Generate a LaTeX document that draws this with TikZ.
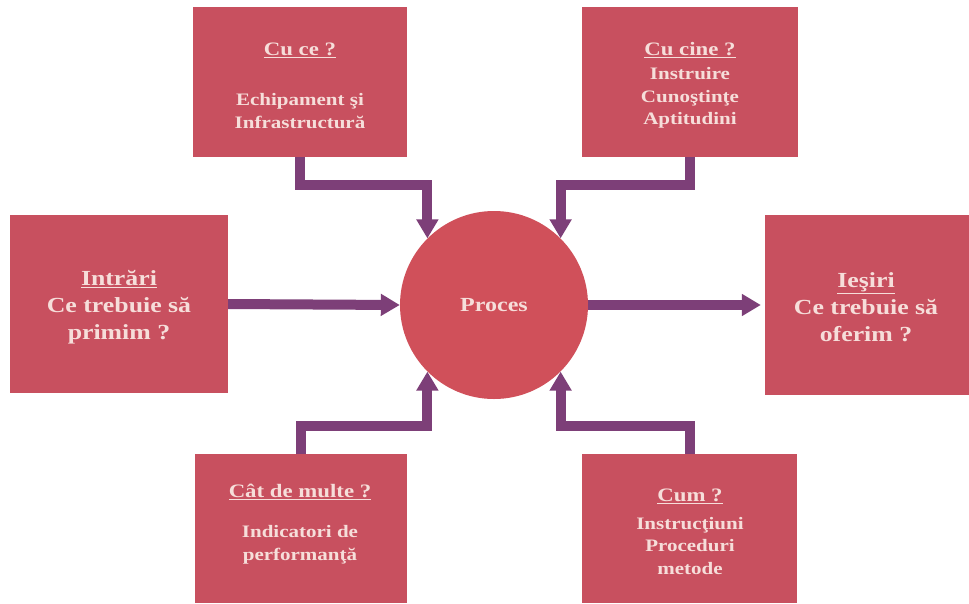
\documentclass[tikz,border=0pt]{standalone}
\usepackage{fontspec}
\setmainfont{Liberation Serif}[FakeStretch=1.2]
\usetikzlibrary{arrows.meta}
\definecolor{boxred}{HTML}{C8505F}
\definecolor{circred}{HTML}{D0505A}
\definecolor{arrpurple}{HTML}{7D3F78}
\definecolor{txtpink}{HTML}{F6DEDA}
\begin{document}
\begin{tikzpicture}[x=1pt,y=-1pt,
  box/.style={fill=boxred,draw=none,inner sep=0pt,text=txtpink,font=\bfseries},
  arr/.style={draw=arrpurple,line width=10pt,line join=miter,
    -{Triangle[width=21pt,length=19pt]}},
  ttl/.style={font=\bfseries\fontsize{19}{21}\selectfont,text=txtpink},
  bod/.style={font=\bfseries\fontsize{17.5}{22.5}\selectfont,text=txtpink,align=center},
  big/.style={font=\bfseries\fontsize{21.5}{27}\selectfont,text=txtpink,align=center}]
\useasboundingbox (0,0) rectangle (969,603);
\fill[white] (0,0) rectangle (969,603);
% boxes
\node[box,minimum width=214pt,minimum height=150pt] (tl) at (300,82) {};
\node[box,minimum width=216pt,minimum height=150pt] (tr) at (690,82) {};
\node[box,minimum width=218pt,minimum height=178pt] (l) at (119,304) {};
\node[box,minimum width=204pt,minimum height=180pt] (r) at (867,305) {};
\node[box,minimum width=212pt,minimum height=149pt] (bl) at (301,528.5) {};
\node[box,minimum width=215pt,minimum height=149pt] (br) at (689.5,528.5) {};
\node[circle,fill=circred,minimum size=188pt,inner sep=0pt] (proc) at (494,305) {};
% texts
\node[ttl] (tlt) at (300,50) {\underline{Cu ce ?}};
\node[bod] (tlb) at (300,111) {Echipament şi\\Infrastructură};
\node[ttl] (trt) at (690,50) {\underline{Cu cine ?}};
\node[bod] (trb) at (690,98) {Instruire\\Cunoştinţe\\Aptitudini};
\node[big] (lt) at (119,307) {\underline{Intrări}\\Ce trebuie să\\primim ?};
\node[big] (rt) at (866,307) {\underline{Ieşiri}\\Ce trebuie să\\oferim ?};
\node[ttl] (blt) at (300,492) {\underline{Cât de multe ?}};
\node[bod] (blb) at (300,545) {Indicatori de\\performanţă};
\node[ttl] (brt) at (690,496) {\underline{Cum ?}};
\node[bod] (brb) at (690,546) {Instrucţiuni\\Proceduri\\metode};
\node[font=\bfseries\fontsize{20}{24}\selectfont,text=txtpink] (pt) at (494,305) {Proces};
% connectors
\coordinate (ytop) at (0,185);
\coordinate (ybot) at (0,426);
\draw[arr] (tl.south) |- (proc.135 |- ytop) -- (proc.135);
\draw[arr] (tr.south) |- (proc.45 |- ytop) -- (proc.45);
\draw[arr] (bl.north) |- (proc.225 |- ybot) -- (proc.225);
\draw[arr] (br.north) |- (proc.315 |- ybot) -- (proc.315);
\draw[arr] (l.east) -- (proc.west);
\draw[arr] (proc.east) -- ([xshift=-4pt]r.west);
\end{tikzpicture}
\end{document}
